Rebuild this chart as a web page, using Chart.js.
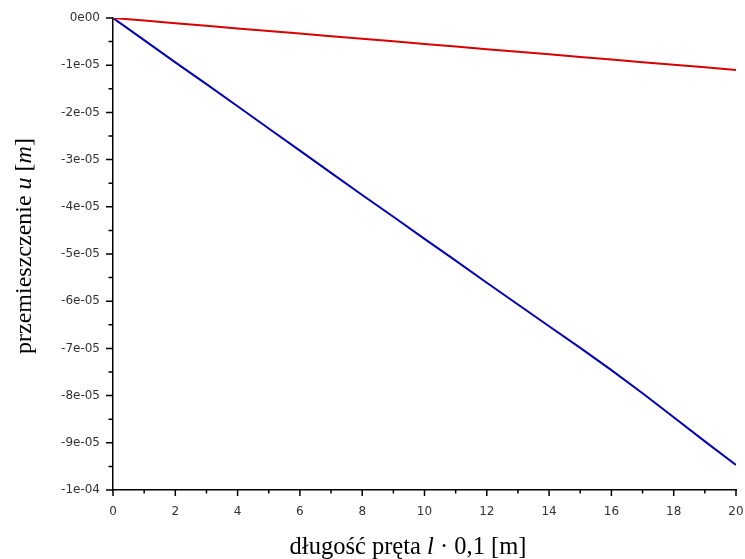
<!DOCTYPE html>
<html>
<head>
<meta charset="utf-8">
<script src="https://cdn.jsdelivr.net/npm/chart.js@4"></script>
<style>
html,body{margin:0;padding:0;background:#fff;}
#wrap{width:745px;height:559px;position:relative;}
</style>
</head>
<body>
<div id="wrap"><canvas id="c" width="745" height="559"></canvas></div>
<script>
// x positions (długość pręta l · 0,1 m)
const xValues = [0,1,2,3,4,5,6,7,8,9,10,11,12,13,14,15,16,17,18,19,20];
// blue series (displacement, m)
const blueU = [0,-0.47e-5,-0.94e-5,-1.40e-5,-1.87e-5,-2.34e-5,-2.81e-5,-3.28e-5,-3.75e-5,-4.21e-5,-4.68e-5,-5.14e-5,-5.61e-5,-6.07e-5,-6.53e-5,-6.99e-5,-7.46e-5,-7.95e-5,-8.46e-5,-8.97e-5,-9.47e-5];
// red series (displacement, m)
const redU = [0,-0.055e-5,-0.11e-5,-0.165e-5,-0.22e-5,-0.275e-5,-0.33e-5,-0.385e-5,-0.44e-5,-0.495e-5,-0.55e-5,-0.605e-5,-0.66e-5,-0.715e-5,-0.77e-5,-0.825e-5,-0.88e-5,-0.935e-5,-0.99e-5,-1.045e-5,-1.10e-5];
// tick labels
const yTickValues = [0,-1e-5,-2e-5,-3e-5,-4e-5,-5e-5,-6e-5,-7e-5,-8e-5,-9e-5,-1e-4];
const yTickLabels = ['0e00','-1e-05','-2e-05','-3e-05','-4e-05','-5e-05','-6e-05','-7e-05','-8e-05','-9e-05','-1e-04'];
const xTickLabels = ['0','2','4','6','8','10','12','14','16','18','20'];
// axis titles (segments: [text, italic])
const xTitle = [['długość pręta ',false],['l',true],[' · 0,1 [m]',false]];
const yTitle = [['przemieszczenie ',false],['u',true],[' [',false],['m',true],[']',false]];

const serif = '"Liberation Serif", "DejaVu Serif", serif';
const tickFont = { family: '"DejaVu Sans", "Liberation Sans", sans-serif', size: 12 };

function drawSegments(ctx, segs, size){
  let total = 0;
  const widths = segs.map(s => {
    ctx.font = (s[1] ? 'italic ' : '') + size + 'px ' + serif;
    const w = ctx.measureText(s[0]).width; total += w; return w;
  });
  let x = -total/2;
  segs.forEach((s,i) => {
    ctx.font = (s[1] ? 'italic ' : '') + size + 'px ' + serif;
    ctx.fillText(s[0], x, 0);
    x += widths[i];
  });
}

const axisDecor = {
  id: 'axisDecor',
  afterDraw(chart){
    const ctx = chart.ctx;
    const xs = chart.scales.x, ys = chart.scales.y;
    const area = chart.chartArea;
    ctx.save();
    ctx.strokeStyle = '#000';
    ctx.lineWidth = 1.5;
    ctx.beginPath();
    // y major + minor ticks (outward, left)
    for (let i = 0; i < yTickValues.length; i++){
      const py = ys.getPixelForValue(yTickValues[i]);
      ctx.moveTo(area.left - 7, py); ctx.lineTo(area.left, py);
      if (i < yTickValues.length - 1){
        const pm = ys.getPixelForValue((yTickValues[i] + yTickValues[i+1]) / 2);
        ctx.moveTo(area.left - 4.5, pm); ctx.lineTo(area.left, pm);
      }
    }
    // x major + minor ticks (outward, down)
    for (let v = 0; v <= 20; v++){
      const px = xs.getPixelForValue(v);
      const len = (v % 2 === 0) ? 6 : 3.5;
      ctx.moveTo(px, area.bottom); ctx.lineTo(px, area.bottom + len);
    }
    ctx.stroke();
    ctx.fillStyle = '#000';
    ctx.textBaseline = 'alphabetic';
    ctx.textAlign = 'left';
    // x title
    ctx.save();
    ctx.translate(408, 554);
    drawSegments(ctx, xTitle, 24.5);
    ctx.restore();
    // y title
    ctx.save();
    ctx.translate(31, 246);
    ctx.rotate(-Math.PI/2);
    drawSegments(ctx, yTitle, 24);
    ctx.restore();
    ctx.restore();
  }
};

new Chart(document.getElementById('c'), {
  type: 'line',
  data: {
    datasets: [
      { data: xValues.map((x,i)=>({x, y: redU[i]})), borderColor: '#d90000', borderWidth: 2, pointRadius: 0, tension: 0, fill: false },
      { data: xValues.map((x,i)=>({x, y: blueU[i]})), borderColor: '#0000b4', borderWidth: 2, pointRadius: 0, tension: 0, fill: false }
    ]
  },
  options: {
    responsive: false,
    animation: false,
    events: [],
    layout: { padding: { top: 18, right: 9, left: 0, bottom: 0 } },
    plugins: { legend: { display: false }, tooltip: { enabled: false } },
    scales: {
      x: {
        type: 'linear', min: 0, max: 20,
        afterFit(s){ s.height = 69; s.paddingLeft = 0; s.paddingRight = 0; },
        afterBuildTicks(s){ s.ticks = xTickLabels.map(t => ({value: Number(t)})); },
        grid: { display: false, drawTicks: false },
        border: { display: true, color: '#000', width: 1.5 },
        ticks: { padding: 15, color: '#333', font: tickFont, maxRotation: 0,
          callback(v){ return xTickLabels[xTickLabels.indexOf(String(v))] ?? ''; } }
      },
      y: {
        type: 'linear', min: -1e-4, max: 0,
        afterFit(s){ s.width = 113; s.paddingTop = 0; s.paddingBottom = 0; },
        afterBuildTicks(s){ s.ticks = yTickValues.map(v => ({value: v})); },
        grid: { display: false, drawTicks: false },
        border: { display: true, color: '#000', width: 1.5 },
        ticks: { padding: 13, color: '#333', font: tickFont,
          callback(v){ const i = yTickValues.findIndex(t => Math.abs(t - v) < 1e-9); return i >= 0 ? yTickLabels[i] : ''; } }
      }
    }
  },
  plugins: [axisDecor]
});
</script>
</body>
</html>
